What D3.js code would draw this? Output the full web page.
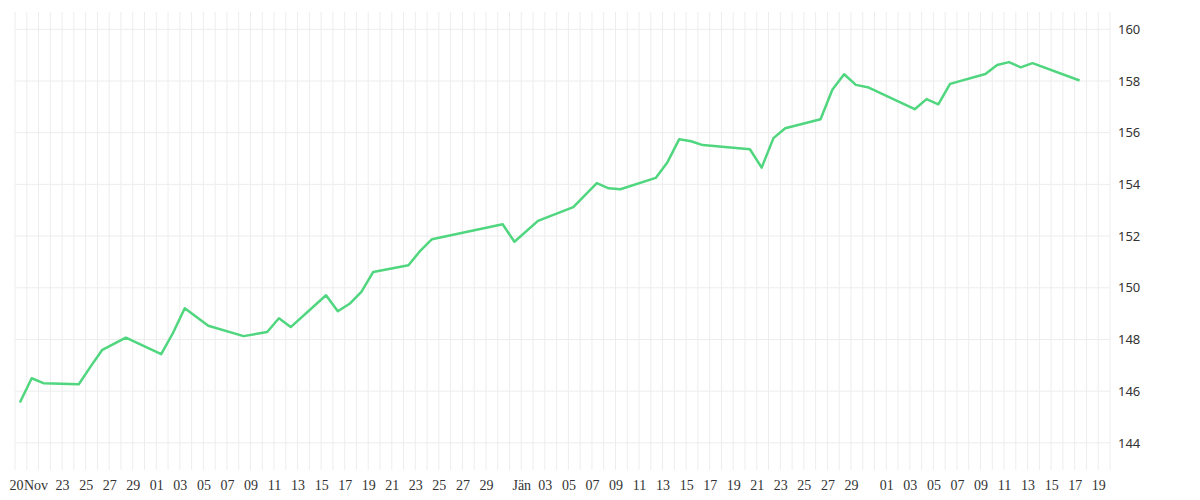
<!DOCTYPE html>
<html>
<head>
<meta charset="utf-8">
<script src="https://cdn.jsdelivr.net/npm/d3@7"></script>
<style>
  body { margin: 0; background: #fff; }
  .xaxis text { font-family: "Liberation Serif", "Times New Roman", "DejaVu Serif", serif; font-size: 14px; }
  .yaxis text { font-family: "Noto Sans", sans-serif; font-size: 13px; }
</style>
</head>
<body>
<svg></svg>
<script>
// dates of the closing points (time of day is added below)
let dates = ["2023-11-19","2023-11-20","2023-11-21","2023-11-24","2023-11-25","2023-11-26","2023-11-28",
  "2023-12-01","2023-12-02","2023-12-03","2023-12-05","2023-12-08","2023-12-10","2023-12-11","2023-12-12",
  "2023-12-15","2023-12-16","2023-12-17","2023-12-18","2023-12-19","2023-12-22","2023-12-23","2023-12-24",
  "2023-12-30","2023-12-31","2024-01-02","2024-01-05","2024-01-07","2024-01-08","2024-01-09","2024-01-12",
  "2024-01-13","2024-01-14","2024-01-15","2024-01-16","2024-01-20","2024-01-21","2024-01-22","2024-01-23",
  "2024-01-26","2024-01-27","2024-01-28","2024-01-29","2024-01-30","2024-02-03","2024-02-04","2024-02-05",
  "2024-02-06","2024-02-09","2024-02-10","2024-02-11","2024-02-12","2024-02-13","2024-02-17"];
let values = [145.56,146.50,146.31,146.27,146.95,147.60,148.07,
  147.43,148.25,149.21,148.53,148.13,148.29,148.82,148.48,
  149.71,149.09,149.38,149.84,150.61,150.87,151.43,151.88,
  152.46,151.78,152.59,153.12,154.05,153.85,153.81,154.25,
  154.86,155.75,155.67,155.52,155.36,154.65,155.79,156.17,
  156.52,157.66,158.26,157.85,157.76,156.91,157.30,157.10,
  157.89,158.27,158.62,158.73,158.53,158.69,158.02];
let yTicks = [144,146,148,150,152,154,156,158,160];
let xTickDates = ["2023-11-19","2023-11-21","2023-11-23","2023-11-25","2023-11-27","2023-11-29",
  "2023-12-01","2023-12-03","2023-12-05","2023-12-07","2023-12-09","2023-12-11","2023-12-13","2023-12-15",
  "2023-12-17","2023-12-19","2023-12-21","2023-12-23","2023-12-25","2023-12-27","2023-12-29",
  "2024-01-01","2024-01-03","2024-01-05","2024-01-07","2024-01-09","2024-01-11","2024-01-13","2024-01-15",
  "2024-01-17","2024-01-19","2024-01-21","2024-01-23","2024-01-25","2024-01-27","2024-01-29",
  "2024-02-01","2024-02-03","2024-02-05","2024-02-07","2024-02-09","2024-02-11","2024-02-13","2024-02-15",
  "2024-02-17","2024-02-19"];
let xTickLabels = ["20","Nov","23","25","27","29",
  "01","03","05","07","09","11","13","15","17","19","21","23","25","27","29",
  "Jän","03","05","07","09","11","13","15","17","19","21","23","25","27","29",
  "01","03","05","07","09","11","13","15","17","19"];

let width = 1200;
let height = 500;
let plot = {left: 15, right: 1110, top: 12, bottom: 470};

let parse = d3.timeParse("%Y-%m-%d");
let data = dates.map((d, i) => ({date: d3.timeHour.offset(parse(d), 10), value: values[i]}));

let svg = d3.select("svg").attr("width", width).attr("height", height);

let xScale = d3.scaleTime()
  .domain([parse("2023-11-19"), parse("2024-02-20")])
  .range([plot.left, plot.right]);
let yScale = d3.scaleLinear()
  .domain([142.95, 160.67])
  .range([plot.bottom, plot.top]);

// grid: one vertical line per day, horizontal every 2
let days = d3.timeDay.range(parse("2023-11-19"), d3.timeDay.offset(parse("2024-02-20"), 1));
svg.append("g").selectAll("line")
  .data(days)
  .enter().append("line")
  .attr("x1", d => xScale(d)).attr("x2", d => xScale(d))
  .attr("y1", plot.top).attr("y2", plot.bottom)
  .attr("stroke", "#ededed").attr("stroke-width", 1);

svg.append("g").selectAll("line")
  .data(yTicks)
  .enter().append("line")
  .attr("x1", plot.left).attr("x2", plot.right)
  .attr("y1", d => yScale(d)).attr("y2", d => yScale(d))
  .attr("stroke", "#ededed").attr("stroke-width", 1);

// y axis on the right
let yAxis = d3.axisRight(yScale).tickValues(yTicks).tickSize(0).tickPadding(8);
let gy = svg.append("g")
  .attr("class", "yaxis")
  .attr("font-family", null)
  .attr("transform", "translate(" + plot.right + ",0)")
  .call(yAxis);
gy.attr("font-family", null).attr("font-size", null);
gy.select(".domain").remove();
gy.selectAll("text").attr("fill", "#333");

// x axis labels
let xAxis = d3.axisBottom(xScale)
  .tickValues(xTickDates.map(parse))
  .tickFormat((d, i) => xTickLabels[i])
  .tickSize(0).tickPadding(10);
let gx = svg.append("g")
  .attr("class", "xaxis")
  .attr("transform", "translate(0," + plot.bottom + ")")
  .call(xAxis);
gx.attr("font-family", null).attr("font-size", null);
gx.select(".domain").remove();
gx.selectAll("text").attr("fill", "#333");
gx.selectAll("text").filter((d, i) => i === 0).attr("dx", 1);
gx.selectAll("text").filter((d, i) => i === 1).attr("dx", -3);

// the line
let line = d3.line()
  .x(d => xScale(d.date))
  .y(d => yScale(d.value));

svg.append("path")
  .datum(data)
  .attr("d", line)
  .attr("fill", "none")
  .attr("stroke", "#4fd67e")
  .attr("stroke-width", 2.5)
  .attr("stroke-linejoin", "round");
</script>
</body>
</html>
